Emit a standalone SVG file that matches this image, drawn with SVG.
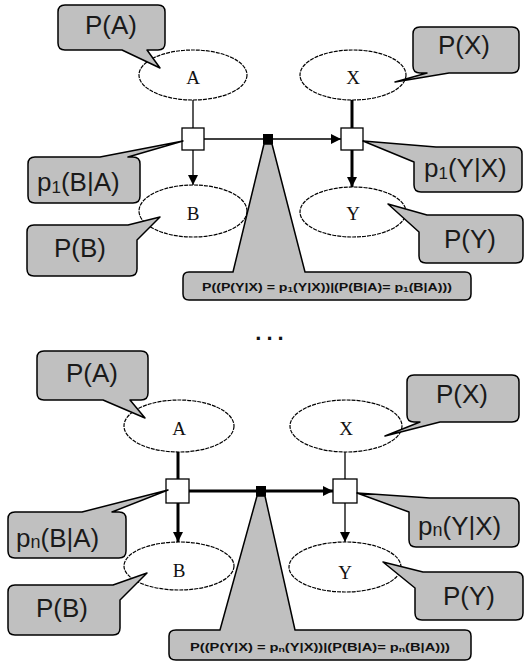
<svg xmlns="http://www.w3.org/2000/svg" width="525" height="663" viewBox="0 0 525 663">
  <style>
    .var { fill: #ffffff; stroke: #000; stroke-width: 1.2; stroke-dasharray: 4 1; }
    .vlabel { font-family: "Liberation Serif", serif; font-size: 19px; fill: #111; text-anchor: middle; }
    .factor { fill: #ffffff; stroke: #000; stroke-width: 1.3; }
    .dot { fill: #000; }
    .callout { fill: #c0c0c0; stroke: #000; stroke-width: 1.5; stroke-linejoin: round; }
    .ctext { font-family: "Liberation Sans", Arial, sans-serif; font-size: 26px; fill: #1a1a1a; }
    .qtext { font-family: "Liberation Sans", Arial, sans-serif; font-size: 10px; font-weight: bold; fill: #111; }
    .thin { stroke: #000; stroke-width: 1.3; fill: none; }
    .thick { stroke: #000; stroke-width: 3; fill: none; }
  </style>
  <defs>
    <marker id="arrow" markerUnits="userSpaceOnUse" markerWidth="11" markerHeight="10" refX="10" refY="5" orient="auto">
      <path d="M0,0 L10,5 L0,10 Z" fill="#000"/>
    </marker>
  </defs>

  <!-- upper network -->
  <g id="node-A"><ellipse class="var" cx="193" cy="75" rx="54" ry="25"/><text class="vlabel" x="193" y="84">A</text></g>
  <g id="node-B"><ellipse class="var" cx="193" cy="211" rx="54" ry="26"/><text class="vlabel" x="193" y="220">B</text></g>
  <g id="node-X"><ellipse class="var" cx="353" cy="75" rx="53" ry="25"/><text class="vlabel" x="353" y="84">X</text></g>
  <g id="node-Y"><ellipse class="var" cx="353" cy="212" rx="53" ry="25"/><text class="vlabel" x="353" y="220">Y</text></g>

  <!-- lower network -->
  <g id="node-A-n"><ellipse class="var" cx="179" cy="426" rx="55" ry="26"/><text class="vlabel" x="179" y="435">A</text></g>
  <g id="node-B-n"><ellipse class="var" cx="179" cy="566" rx="55" ry="24"/><text class="vlabel" x="179" y="577">B</text></g>
  <g id="node-X-n"><ellipse class="var" cx="346" cy="426" rx="56" ry="26"/><text class="vlabel" x="346" y="435">X</text></g>
  <g id="node-Y-n"><ellipse class="var" cx="345" cy="567" rx="56" ry="25"/><text class="vlabel" x="345" y="579">Y</text></g>

  <g id="connectors">
    <!-- upper -->
    <line class="thin" x1="193" y1="100" x2="193" y2="128"/>
    <line class="thin" x1="193" y1="150" x2="193" y2="185" marker-end="url(#arrow)"/>
    <line class="thin" x1="204" y1="139" x2="264" y2="139"/>
    <line class="thin" x1="272" y1="139" x2="341" y2="139" marker-end="url(#arrow)"/>
    <line class="thick" x1="352" y1="100" x2="352" y2="128"/>
    <line class="thick" x1="352" y1="150" x2="352" y2="187" marker-end="url(#arrow)"/>
    <!-- lower -->
    <line class="thick" x1="178" y1="452" x2="178" y2="479"/>
    <line class="thick" x1="178" y1="503" x2="178" y2="542" marker-end="url(#arrow)"/>
    <line class="thick" x1="189" y1="491" x2="257" y2="491"/>
    <line class="thick" x1="265" y1="491" x2="333" y2="491" marker-end="url(#arrow)"/>
    <line class="thin" x1="345" y1="452" x2="345" y2="479"/>
    <line class="thin" x1="345" y1="503" x2="345" y2="542" marker-end="url(#arrow)"/>
  </g>

  <!-- factor nodes -->
  <g id="factor-BA"><rect class="factor" x="182" y="128" width="22" height="22"/></g>
  <g id="factor-YX"><rect class="factor" x="341" y="128" width="22" height="22"/></g>
  <g id="link-1"><rect class="dot" x="263" y="134" width="10" height="10"/></g>
  <g id="factor-BA-n"><rect class="factor" x="166" y="479" width="23" height="24"/></g>
  <g id="factor-YX-n"><rect class="factor" x="333" y="479" width="24" height="24"/></g>
  <g id="link-n"><rect class="dot" x="256" y="486" width="10" height="10"/></g>

  <!-- upper callouts -->
  <g id="callout-PA">
    <path class="callout" d="M65,5 H158 Q165,5 165,12 V43 Q165,50 158,50 H147 L160,68 L122,50 H65 Q58,50 58,43 V12 Q58,5 65,5 Z"/>
    <text class="ctext" x="111" y="34" text-anchor="middle">P(A)</text>
  </g>
  <g id="callout-PX">
    <path class="callout" d="M420,27 H512 Q519,27 519,34 V66 Q519,73 512,73 H449 L395,82 L427,73 H420 Q413,73 413,66 V34 Q413,27 420,27 Z"/>
    <text class="ctext" x="464" y="54" text-anchor="middle">P(X)</text>
  </g>
  <g id="callout-p1BA">
    <path class="callout" d="M35,157 H100 L183,141 L128,157 H133 Q140,157 140,164 V196 Q140,203 133,203 H35 Q28,203 28,196 V164 Q28,157 35,157 Z"/>
    <text class="ctext" x="37" y="191">p<tspan font-size="17" dy="2">1</tspan><tspan dy="-2">(B|A)</tspan></text>
  </g>
  <g id="callout-PB">
    <path class="callout" d="M34,225 H128 L160,217 L137,240 V269 Q137,276 130,276 H34 Q27,276 27,269 V232 Q27,225 34,225 Z"/>
    <text class="ctext" x="80" y="257" text-anchor="middle">P(B)</text>
  </g>
  <g id="callout-p1YX">
    <path class="callout" d="M436,147 H515 Q522,147 522,154 V185 Q522,192 515,192 H421 Q414,192 414,185 V162 L363,141 Z"/>
    <text class="ctext" x="424" y="177">p<tspan font-size="17" dy="2">1</tspan><tspan dy="-2">(Y|X)</tspan></text>
  </g>
  <g id="callout-PY">
    <path class="callout" d="M427,215 H516 Q523,215 523,222 V256 Q523,263 516,263 H426 Q419,263 419,256 V232 L388,204 Z"/>
    <text class="ctext" x="470" y="248" text-anchor="middle">P(Y)</text>
  </g>
  <g id="callout-query-1">
    <path class="callout" d="M189,272 H233 L264,144 L272,144 L305,272 H465 Q471,272 471,278 V294 Q471,300 465,300 H189 Q183,300 183,294 V278 Q183,272 189,272 Z"/>
    <text class="qtext" x="202" y="291" textLength="250" lengthAdjust="spacingAndGlyphs">P((P(Y|X) = p<tspan font-size="7" dy="1">1</tspan><tspan dy="-1">(Y|X))|(P(B|A)= p</tspan><tspan font-size="7" dy="1">1</tspan><tspan dy="-1">(B|A)))</tspan></text>
  </g>

  <text x="272" y="340" font-family="Liberation Sans, Arial, sans-serif" font-size="22" font-weight="bold" letter-spacing="5" text-anchor="middle" fill="#111">...</text>

  <!-- lower callouts -->
  <g id="callout-PA-n">
    <path class="callout" d="M44,351 H141 Q148,351 148,358 V393 Q148,400 141,400 H130 L145,418 L103,400 H44 Q37,400 37,393 V358 Q37,351 44,351 Z"/>
    <text class="ctext" x="92" y="382" text-anchor="middle">P(A)</text>
  </g>
  <g id="callout-PX-n">
    <path class="callout" d="M414,375 H512 Q519,375 519,382 V415 Q519,422 512,422 H440 L385,436 L420,422 H414 Q407,422 407,415 V382 Q407,375 414,375 Z"/>
    <text class="ctext" x="462" y="403" text-anchor="middle">P(X)</text>
  </g>
  <g id="callout-pnBA">
    <path class="callout" d="M15,512 H82 L168,490 L112,512 H119 Q126,512 126,519 V551 Q126,558 119,558 H15 Q8,558 8,551 V519 Q8,512 15,512 Z"/>
    <text class="ctext" x="16" y="547">p<tspan font-size="18" dy="1">n</tspan><tspan dy="-1">(B|A)</tspan></text>
  </g>
  <g id="callout-PB-n">
    <path class="callout" d="M15,585 H113 L147,573 L120,600 V628 Q120,635 113,635 H15 Q8,635 8,628 V592 Q8,585 15,585 Z"/>
    <text class="ctext" x="62" y="617" text-anchor="middle">P(B)</text>
  </g>
  <g id="callout-pnYX">
    <path class="callout" d="M430,498 H512 Q519,498 519,505 V540 Q519,547 512,547 H416 Q409,547 409,540 V512 L357,493 Z"/>
    <text class="ctext" x="418" y="535">p<tspan font-size="18" dy="1">n</tspan><tspan dy="-1">(Y|X)</tspan></text>
  </g>
  <g id="callout-PY-n">
    <path class="callout" d="M423,572 H516 Q523,572 523,579 V613 Q523,620 516,620 H422 Q415,620 415,613 V588 L383,562 Z"/>
    <text class="ctext" x="469" y="605" text-anchor="middle">P(Y)</text>
  </g>
  <g id="callout-query-n">
    <path class="callout" d="M176,630 H220 L257,496 L265,496 L295,630 H465 Q471,630 471,636 V654 Q471,660 465,660 H176 Q169,660 169,654 V636 Q169,630 176,630 Z"/>
    <text class="qtext" x="190" y="651" textLength="260" lengthAdjust="spacingAndGlyphs">P((P(Y|X) = p<tspan font-size="7" dy="1">n</tspan><tspan dy="-1">(Y|X))|(P(B|A)= p</tspan><tspan font-size="7" dy="1">n</tspan><tspan dy="-1">(B|A)))</tspan></text>
  </g>
</svg>
